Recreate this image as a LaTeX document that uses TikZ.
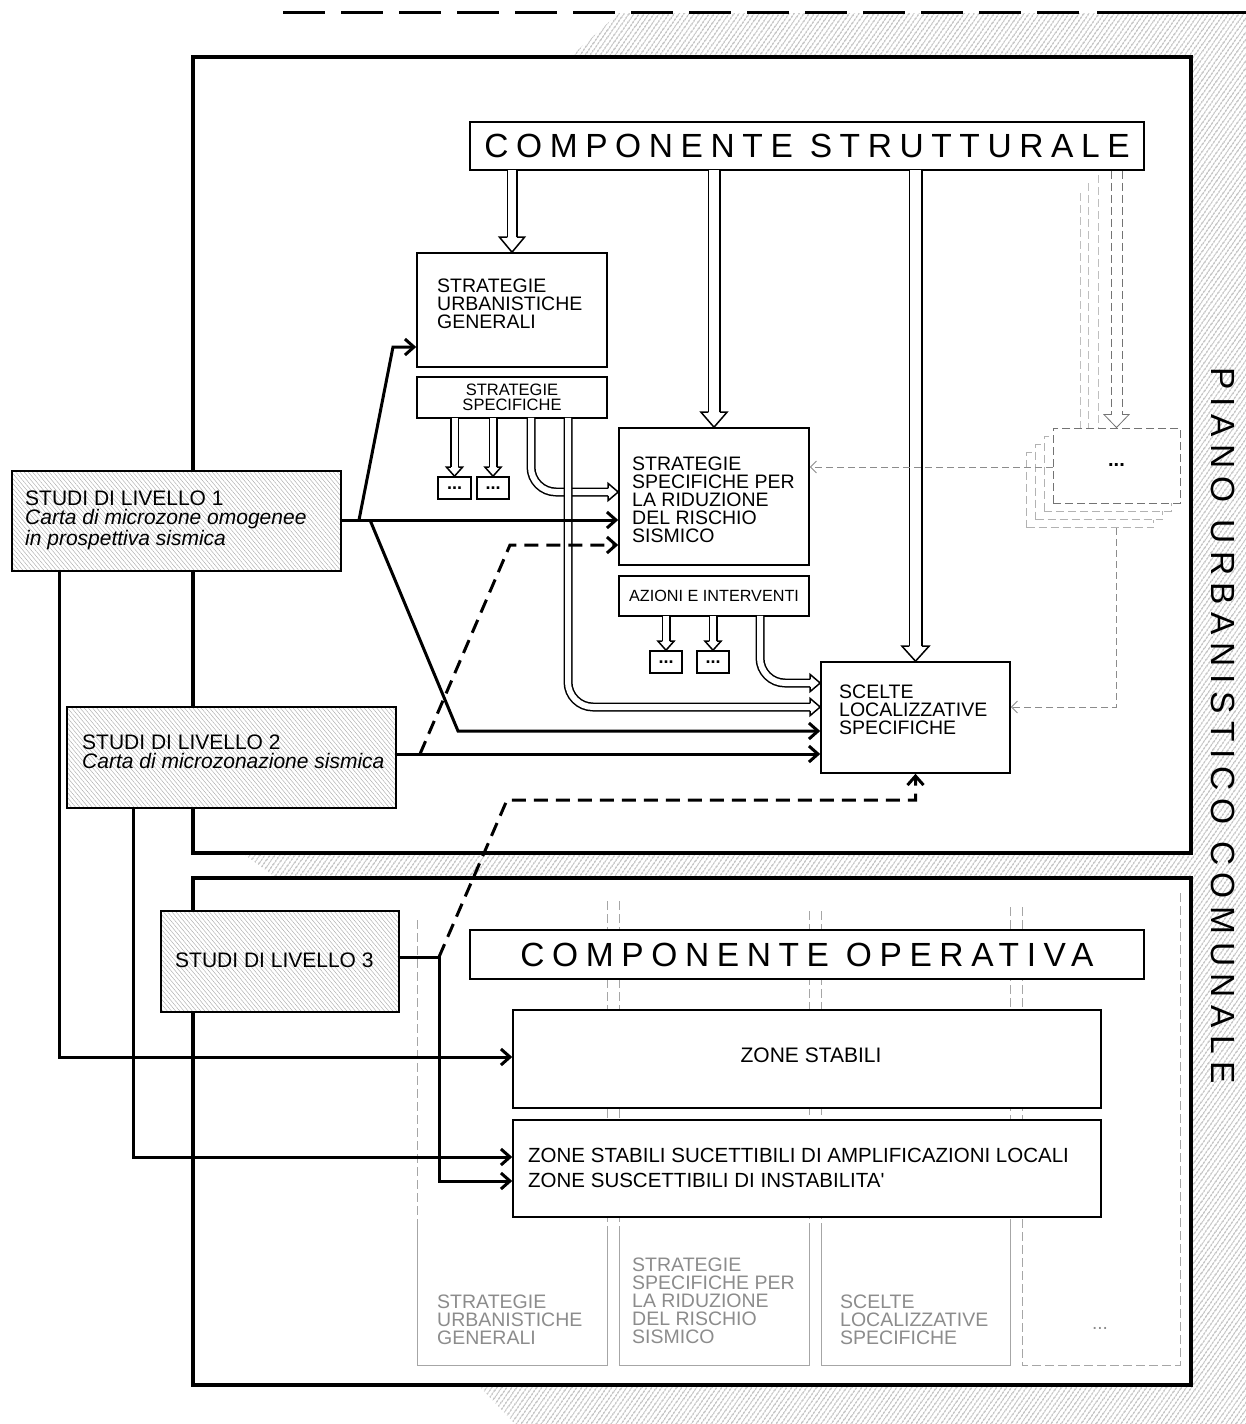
\documentclass[tikz,border=0pt]{standalone}
\usepackage{fontspec}
\setmainfont{Liberation Sans}
\newfontfamily\hdrfont[LetterSpace=22.7]{Liberation Sans}
\usetikzlibrary{arrows.meta,patterns.meta,calc}
\newcommand\myfs[2]{\fontsize{#1pt}{#2pt}\selectfont}
\newcommand\headD[4]{\draw[dhead] let \p1=#1 in (\x1-#2pt,\y1+#4pt) -- (\x1-#3pt,\y1+#4pt) -- (\x1,\y1) -- (\x1+#3pt,\y1+#4pt) -- (\x1+#2pt,\y1+#4pt);}
\newcommand\headR[4]{\draw[dhead] let \p1=#1 in (\x1-#4pt,\y1+#2pt) -- (\x1-#4pt,\y1+#3pt) -- (\x1,\y1) -- (\x1-#4pt,\y1-#3pt) -- (\x1-#4pt,\y1-#2pt);}
\begin{document}
\begin{tikzpicture}[x=1pt,y=-1pt,
  cont/.style={draw, line width=3.5pt, fill=white, inner sep=0pt},
  box/.style={draw, line width=1.6pt, fill=white, inner sep=0pt},
  dotbox/.style={box, font=\bfseries\myfs{18}{18}},
  studi/.style={draw, line width=1.6pt, inner sep=0pt, preaction={fill=white},
     pattern={Lines[angle=-50,distance=3.2pt,line width=0.45pt]}, pattern color=black!32},
  txt/.style={inner sep=0pt, align=left, font=\myfs{19.5}{18}},
  gtxt/.style={txt, text=black!45},
  stxt/.style={inner sep=0pt, align=left, font=\myfs{21}{19}},
  hdr/.style={font=\hdrfont\myfs{33.5}{40}},
  gcol/.style={draw=black!35, line width=1pt},
  gdash/.style={gcol, dash pattern=on 9pt off 4pt},
  dshaft/.style={line width=1.5pt, double=white, double distance=#1},
  dhead/.style={line width=1.5pt, fill=white, line join=miter, miter limit=10},
  conn/.style={line width=3pt, -{Straight Barb[length=9pt,width=16pt]}},
  dconn/.style={conn, dash pattern=on 14pt off 8pt},
  gconn/.style={draw=black!45, line width=0.9pt, dash pattern=on 7pt off 4pt, -{Straight Barb[length=6pt,width=12pt]}},
  ghost/.style={draw=black!25, line width=0.8pt, dash pattern=on 8pt off 4pt},
  stackbox/.style={draw=black!30, line width=0.9pt, fill=white, dash pattern=on 8pt off 4pt, inner sep=0pt, minimum width=127pt, minimum height=75pt}
]
\path[use as bounding box] (0,0) rectangle (1246,1424);

% hatched shadow
\fill[pattern={Lines[angle=55,distance=4pt,line width=0.75pt]}, pattern color=black!60]
  (619,13) -- (1246,13) -- (1246,1424) -- (515,1424) -- (479,1386) -- (300,1386) -- (300,877)
  -- (275,877) -- (245,855) -- (300,855) -- (300,57) -- (570,57) -- cycle;
% top dashed line
\draw[line width=3pt, dash pattern=on 42pt off 16pt] (283,12) -- (1085,12);
\draw[line width=3pt] (1097,12) -- (1246,12);

% containers
\node[cont, minimum width=998pt, minimum height=796pt] (pc1) at (692,455) {};
\node[cont, minimum width=998pt, minimum height=507pt] (pc2) at (692,1131.5) {};

% grey columns of the operative component
\draw[gdash] (417,920) -- (417,1228);
\draw[gcol] (417,1228) -- (417,1365) -- (607,1365) -- (607,1228);
\draw[gdash] (607,901) -- (607,1228);
\draw[gdash] (619,901) -- (619,1228);
\draw[gcol] (619,1228) -- (619,1365) -- (809,1365) -- (809,1228);
\draw[gdash] (809,911) -- (809,1228);
\draw[gdash] (821,911) -- (821,1228);
\draw[gcol] (821,1228) -- (821,1365) -- (1010,1365) -- (1010,1228);
\draw[gdash] (1010,907) -- (1010,1228);
\draw[gdash] (1022,907) -- (1022,1365) -- (1180,1365) -- (1180,892);
\node[gtxt, anchor=north west] (g1T) at (437,1295) {STRATEGIE\\URBANISTICHE\\GENERALI};
\node[gtxt, anchor=north west] (g2T) at (632,1258) {STRATEGIE\\SPECIFICHE PER\\LA RIDUZIONE\\DEL RISCHIO\\SISMICO};
\node[gtxt, anchor=north west] (g3T) at (840,1295) {SCELTE\\LOCALIZZATIVE\\SPECIFICHE};
\node[inner sep=0pt, text=black!45, font=\myfs{19}{19}] (g4T) at (1100,1328) {...};

% structural component
\node[box, hdr, minimum width=674pt, minimum height=48pt] (cs) at (807,146) {COMPONENTE STRUTTURALE};
\node[box, minimum width=190pt, minimum height=114pt] (sug) at (512,310) {};
\node[txt, anchor=north west] (sugT) at (437,279) {STRATEGIE\\URBANISTICHE\\GENERALI};
\node[box, minimum width=190pt, minimum height=41pt, align=center, font=\myfs{16.5}{15}] (ss) at (512,397.5) {STRATEGIE\\SPECIFICHE};
\node[dotbox, minimum width=33pt, minimum height=22pt] (d1) at (454.5,488) {...};
\node[dotbox, minimum width=32pt, minimum height=22pt] (d2) at (493,488) {...};
\node[box, minimum width=190pt, minimum height=137pt] (sspr) at (714,496.5) {};
\node[txt, anchor=north west] (ssprT) at (632,457) {STRATEGIE\\SPECIFICHE PER\\LA RIDUZIONE\\DEL RISCHIO\\SISMICO};
\node[box, minimum width=190pt, minimum height=40pt, font=\myfs{16.2}{16}] (az) at (714,596) {AZIONI E INTERVENTI};
\node[dotbox, minimum width=32pt, minimum height=22pt] (d3) at (666,662) {...};
\node[dotbox, minimum width=32pt, minimum height=22pt] (d4) at (713,662) {...};
\node[box, minimum width=189pt, minimum height=111pt] (sls) at (915.5,717.5) {};
\node[txt, anchor=north west] (slsT) at (839,685) {SCELTE\\LOCALIZZATIVE\\SPECIFICHE};

% stacked further boxes
\draw[ghost] (1080,193) -- (1080,455);
\draw[ghost] (1088,183) -- (1088,455);
\draw[ghost] (1098,175) -- (1098,455);
\node[stackbox] (st3) at (1090.4,490.4) {};
\node[stackbox] (st2) at (1099.1,482.1) {};
\node[stackbox] (st1) at (1107.8,473.8) {};
\node[stackbox, draw=black!55, font=\bfseries\myfs{20}{20}] (st0) at (1116.5,465.5) {...};

% double (open) arrows
\draw[dshaft=8pt] ($(sug.north |- cs.south)+(0,-1)$) -- ($(sug.north)+(0,-15)$);
\headD{(sug.north)}{4.75}{12.5}{15}
\draw[dshaft=10pt] ($(sspr.north |- cs.south)+(0,-1)$) -- ($(sspr.north)+(0,-15)$);
\headD{(sspr.north)}{5.75}{13}{15}
\draw[dshaft=11pt] ($(sls.north |- cs.south)+(0,-1)$) -- ($(sls.north)+(0,-15)$);
\headD{(sls.north)}{6.25}{13.5}{15}
\draw[dshaft=6pt] ($(d1.north |- ss.south)+(0,-1)$) -- ($(d1.north)+(0,-9)$);
\headD{(d1.north)}{3.75}{8}{9}
\draw[dshaft=6pt] ($(d2.north |- ss.south)+(0,-1)$) -- ($(d2.north)+(0,-9)$);
\headD{(d2.north)}{3.75}{8}{9}
\draw[dshaft=6pt] ($(d3.north |- az.south)+(0,-1)$) -- ($(d3.north)+(0,-9)$);
\headD{(d3.north)}{3.75}{8}{9}
\draw[dshaft=6pt] ($(d4.north |- az.south)+(0,-1)$) -- ($(d4.north)+(0,-9)$);
\headD{(d4.north)}{3.75}{8}{9}
\draw[dshaft=6pt, rounded corners=25pt] ($(ss.south)+(19,-1)$) |- ($(sspr.west)+(-10,-4.5)$);
\headR{($(sspr.west)+(0,-4.5)$)}{3.75}{8.5}{10}
\draw[dshaft=6pt, rounded corners=25pt] ($(ss.south)+(56,-1)$) |- ($(sls.west)+(-10,-10.5)$);
\headR{($(sls.west)+(0,-10.5)$)}{3.75}{8.5}{10}
\draw[dshaft=6pt, rounded corners=25pt] ($(az.south)+(46,-1)$) |- ($(sls.west)+(-10,-34.5)$);
\headR{($(sls.west)+(0,-34.5)$)}{3.75}{8.5}{10}

% dashed grey double arrow to the stacked boxes
\draw[ghost, draw=black!55] ($(st0.north |- cs.south)+(-5.5,0)$) -- ($(st0.north)+(-5.5,-13)$);
\draw[ghost, draw=black!55] ($(st0.north |- cs.south)+(5.5,0)$) -- ($(st0.north)+(5.5,-13)$);
\draw[black!55, line width=0.8pt] ($(st0.north)+(-5.5,-13)$) -- ($(st0.north)+(-12.5,-13)$) -- (st0.north) -- ($(st0.north)+(12.5,-13)$) -- ($(st0.north)+(5.5,-13)$);

% grey dashed connectors
\coordinate (g1) at ($(st0.west)+(0,1.5)$);
\draw[gconn] (g1) -- (sspr.east |- g1);
\draw[gconn] (st0.south |- st3.south) |- ($(sls.east)+(0,-10.5)$);

% operative component
\node[box, hdr, minimum width=674pt, minimum height=49pt] (co) at (807,954.5) {COMPONENTE OPERATIVA};
\node[box, minimum width=588pt, minimum height=98pt] (zs) at (807,1059) {};
\node[inner sep=0pt, font=\myfs{21}{21}] (zsT) at (811,1055) {ZONE STABILI};
\node[box, minimum width=588pt, minimum height=97pt] (zsa) at (807,1168.5) {};
\node[inner sep=0pt, align=left, font=\myfs{20.5}{25}, anchor=north west] (zsaT) at (528,1148)
  {ZONE STABILI SUCETTIBILI DI AMPLIFICAZIONI LOCALI\\ZONE SUSCETTIBILI DI INSTABILITA\textquotesingle};

% studies
\node[studi, minimum width=329pt, minimum height=100pt] (s1) at (176.5,521) {};
\node[stxt, anchor=north west] (s1T) at (25,491) {STUDI DI LIVELLO 1\\\textit{Carta di microzone omogenee}\\\textit{in prospettiva sismica}};
\node[studi, minimum width=329pt, minimum height=101pt] (s2) at (231.5,757.5) {};
\node[stxt, anchor=north west] (s2T) at (82,735) {STUDI DI LIVELLO 2\\\textit{Carta di microzonazione sismica}};
\node[studi, minimum width=238pt, minimum height=101pt] (s3) at (280,961.5) {};
\node[stxt, anchor=west] (s3T) at (175,960) {STUDI DI LIVELLO 3};

% connectors from the studies
\coordinate (j1) at (359,520);
\coordinate (j2) at (370,520);
\coordinate (b1) at (393,347);
\coordinate (b2) at (458,731);
\coordinate (j3) at (420,754);
\coordinate (b3) at (510,545);
\coordinate (j4) at (439,957);
\coordinate (b4) at (507,800);
\draw[line width=3pt] ($(s1.east)+(0,-1)$) -- (j2);
\draw[conn] (j1) -- (b1) -- (sug.west |- b1);
\draw[conn] (j1) -- (sspr.west |- j1);
\draw[conn] (j2) -- (b2) -- (sls.west |- b2);
\draw[conn] ($(s2.east)+(0,-3.5)$) -- (sls.west |- j3);
\draw[dconn] (j3) -- (b3) -- (sspr.west |- b3);
\draw[conn] ($(s1.south)+(-117.5,0)$) |- ($(zs.west)+(0,-2)$);
\draw[conn] ($(s2.south)+(-98.5,0)$) |- ($(zsa.west)+(0,-11.5)$);
\draw[line width=3pt] ($(s3.east)+(0,-4.5)$) -- (j4);
\draw[conn] (j4) |- ($(zsa.west)+(0,12.5)$);
\draw[dconn] (j4) -- (b4) -| (sls.south);

% vertical title
\node[hdr, rotate=-90, inner sep=0pt] (puc) at (1223,726) {PIANO URBANISTICO COMUNALE};
\end{tikzpicture}
\end{document}
